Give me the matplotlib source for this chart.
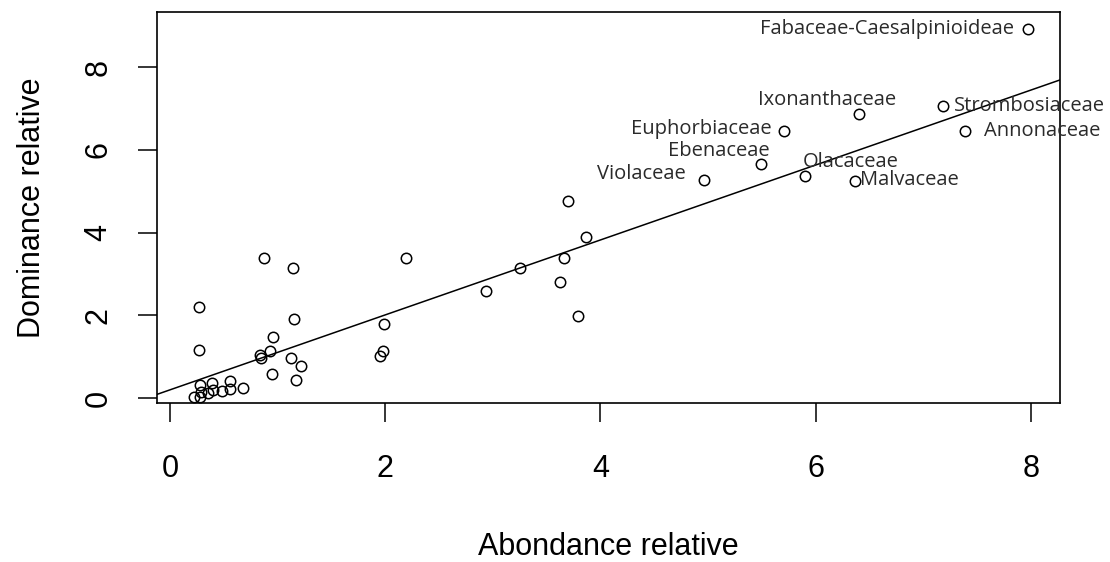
import numpy as np
import matplotlib
matplotlib.use("Agg")
import matplotlib.pyplot as plt

# abondance / dominance relatives (%) par famille
familles = ["Fabaceae-Caesalpinioideae", "Ixonanthaceae", "Strombosiaceae",
            "Annonaceae", "Euphorbiaceae", "Ebenaceae", "Olacaceae",
            "Violaceae", "Malvaceae"]
abond_fam = [7.97, 6.40, 7.18, 7.39, 5.71, 5.49, 5.90, 4.96, 6.37]
domin_fam = [8.93, 6.87, 7.07, 6.46, 6.45, 5.65, 5.38, 5.28, 5.24]

# autres familles (sans étiquette)
abond_autres = [3.70, 3.87, 3.66, 3.62, 3.79, 3.25, 2.94, 2.19, 1.99, 1.98,
                1.95, 0.87, 1.14, 0.27, 1.15, 0.27, 0.96, 0.93, 0.84, 0.85,
                1.12, 1.22, 0.95, 1.17, 0.22, 0.28, 0.29, 0.28, 0.39, 0.40,
                0.48, 0.56, 0.56, 0.68, 0.35]
domin_autres = [4.77, 3.89, 3.38, 2.80, 1.99, 3.15, 2.58, 3.38, 1.79, 1.13,
                1.02, 3.38, 3.14, 2.21, 1.91, 1.17, 1.47, 1.13, 1.04, 0.97,
                0.97, 0.77, 0.59, 0.44, 0.04, 0.04, 0.16, 0.32, 0.36, 0.20,
                0.18, 0.42, 0.22, 0.24, 0.13]

# droite de régression (abline)
origine = 0.204
pente = 0.905

ticks = [0, 2, 4, 6, 8]

# décalage des étiquettes (pixels) et alignement
decalages = {
    "Fabaceae-Caesalpinioideae": (-14, 0, "right"),
    "Ixonanthaceae": (-32, 14, "center"),
    "Strombosiaceae": (11, 0, "left"),
    "Annonaceae": (19, 0, "left"),
    "Euphorbiaceae": (-13, 2, "right"),
    "Ebenaceae": (-42, 13, "center"),
    "Olacaceae": (-2, 14, "left"),
    "Violaceae": (-18, 6, "right"),
    "Malvaceae": (5, 1, "left"),
}

x = np.array(abond_fam + abond_autres)
y = np.array(domin_fam + domin_autres)

fig = plt.figure(figsize=(11.10, 5.62), dpi=100)
ax = fig.add_axes([157 / 1110, 1 - 403 / 562, 903 / 1110, 391 / 562])

ax.plot(x, y, "o", mfc="none", mec="black", ms=7.5, mew=1.1)

xl = np.array([-0.121, 8.271])
ax.plot(xl, origine + pente * xl, color="black", lw=1.1)

for nom, xa, ya in zip(familles, abond_fam, domin_fam):
    dx, dy, ha = decalages[nom]
    ax.annotate(nom, (xa, ya), xytext=(dx * 0.72, dy * 0.72),
                textcoords="offset points", ha=ha, va="center",
                fontsize=14.5, family="Open Sans", color="#2a2a2a")

ax.set_xlim(-0.121, 8.271)
ax.set_ylim(-0.114, 9.33)
ax.set_xticks(ticks)
ax.set_yticks(ticks)
ax.tick_params(direction="out", length=13.5, width=1.1, labelsize=22,
               color="black")
ax.tick_params(axis="x", pad=23)
ax.tick_params(axis="y", pad=18)
for lab in ax.get_xticklabels() + ax.get_yticklabels():
    lab.set_family("Liberation Sans")
for lab in ax.get_yticklabels():
    lab.set_rotation(90)
    lab.set_va("center")
for s in ax.spines.values():
    s.set_linewidth(1.2)

ax.set_xlabel("Abondance relative", fontsize=22, family="Liberation Sans",
              labelpad=35)
ax.set_ylabel("Dominance relative", fontsize=22, family="Liberation Sans",
              labelpad=26)

fig.savefig("out.png", dpi=100)
